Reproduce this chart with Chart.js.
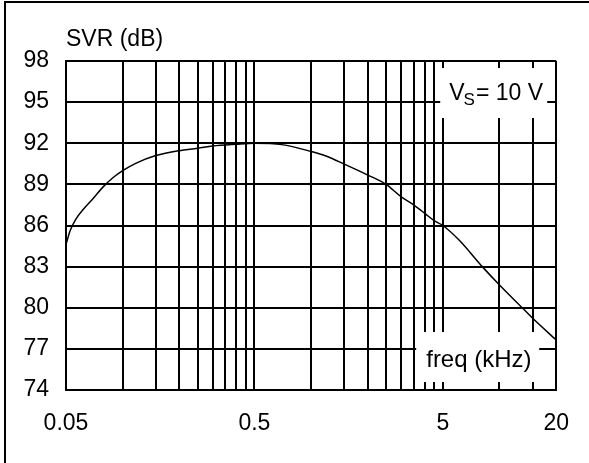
<!DOCTYPE html>
<html>
<head>
<meta charset="utf-8">
<script src="https://cdn.jsdelivr.net/npm/chart.js@4/dist/chart.umd.min.js"></script>
<style>
    html, body { margin: 0; padding: 0; background: #fff; }
</style>
</head>
<body>
<canvas id="grafica" width="589" height="463"></canvas>
<script>
// Curva SVR vs frecuencia (kHz)
const freq = [0.05, 0.0525, 0.056, 0.062, 0.07, 0.0785, 0.089, 0.1, 0.118, 0.15, 0.2, 0.25, 0.3, 0.4, 0.5, 0.7, 1, 1.2, 1.5, 2, 2.5, 3, 3.5, 4, 4.5, 5, 6.1, 8.1, 10, 13.2, 15, 20];
const svr = [84.6, 85.6, 86.4, 87.2, 88.0, 88.8, 89.5, 90.0, 90.55, 91.1, 91.46, 91.63, 91.8, 91.93, 92.0, 91.9, 91.4, 91.07, 90.48, 89.68, 89.0, 88.1, 87.5, 86.9, 86.35, 86.0, 84.94, 83.0, 81.66, 80.0, 79.23, 77.65];

// Lineas verticales de la reja y etiquetas del eje x
const xGrid = [0.05, 0.1, 0.15, 0.2, 0.25, 0.3, 0.35, 0.4, 0.45, 0.5, 1, 1.5, 2, 2.5, 3, 3.5, 4, 4.5, 5, 10, 15, 20];
const xLabels = [0.05, 0.5, 5, 20];
const yTicks = [74, 77, 80, 83, 86, 89, 92, 95, 98];

const fuente = '"Liberation Sans", Arial, sans-serif';

const anotaciones = {
    id: 'anotaciones',
    beforeDraw(chart) {
        const ctx = chart.ctx;
        ctx.save();
        ctx.fillStyle = '#000';
        // marco exterior (solo arriba e izquierda)
        ctx.fillRect(4, 1, 585, 2);
        ctx.fillRect(4, 1, 2, 462);
        ctx.restore();
    },
    afterDatasetsDraw(chart) {
        const ctx = chart.ctx;
        const a = chart.chartArea;
        ctx.save();
        ctx.font = '23px ' + fuente;
        ctx.fillStyle = '#000';
        ctx.textBaseline = 'alphabetic';
        ctx.fillText('SVR (dB)', a.left, 46);

        // cajas blancas sobre la reja
        ctx.fillStyle = '#fff';
        ctx.fillRect(a.right - 116, a.top + 7, 107, 50);
        ctx.fillRect(a.right - 140, a.bottom - 58, 123, 50);

        ctx.fillStyle = '#000';
        let x = a.right - 107;
        ctx.fillText('V', x, a.top + 39);
        x += ctx.measureText('V').width - 1;
        ctx.font = '17px ' + fuente;
        ctx.fillText('S', x, a.top + 44);
        x += ctx.measureText('S').width + 1;
        ctx.font = '23px ' + fuente;
        ctx.fillText('= 10 V', x, a.top + 39);

        ctx.font = '24px ' + fuente;
        ctx.fillText('freq (kHz)', a.right - 130, a.bottom - 23);
        ctx.restore();
    }
};

new Chart(document.getElementById('grafica'), {
    type: 'line',
    data: {
        datasets: [{
            data: freq.map((f, i) => ({ x: f, y: svr[i] })),
            borderColor: '#000',
            borderWidth: 1.5,
            pointRadius: 0,
            fill: false,
            cubicInterpolationMode: 'monotone'
        }]
    },
    options: {
        responsive: false,
        animation: false,
        layout: { padding: { top: 61, right: 30, left: 0, bottom: 0 } },
        plugins: {
            legend: { display: false },
            tooltip: { enabled: false }
        },
        scales: {
            x: {
                type: 'logarithmic',
                min: 0.05,
                max: 20,
                afterBuildTicks: (scale) => {
                    scale.ticks = xGrid.map(v => ({ value: v }));
                },
                afterFit: (scale) => { scale.height = 73; },
                grid: { color: '#000', lineWidth: 2, drawTicks: false },
                border: { display: true, color: '#000', width: 2 },
                ticks: {
                    autoSkip: false,
                    maxRotation: 0,
                    padding: 20,
                    color: '#000',
                    font: { family: fuente, size: 23 },
                    callback: (value) => xLabels.includes(value) ? String(value) : ''
                }
            },
            y: {
                min: 74,
                max: 98,
                afterBuildTicks: (scale) => {
                    scale.ticks = yTicks.map(v => ({ value: v }));
                },
                afterFit: (scale) => { scale.width = 66; },
                grid: { color: '#000', lineWidth: 2, drawTicks: false },
                border: { display: true, color: '#000', width: 2 },
                ticks: {
                    padding: 17,
                    color: '#000',
                    font: { family: fuente, size: 23 }
                }
            }
        }
    },
    plugins: [anotaciones]
});
</script>
</body>
</html>
